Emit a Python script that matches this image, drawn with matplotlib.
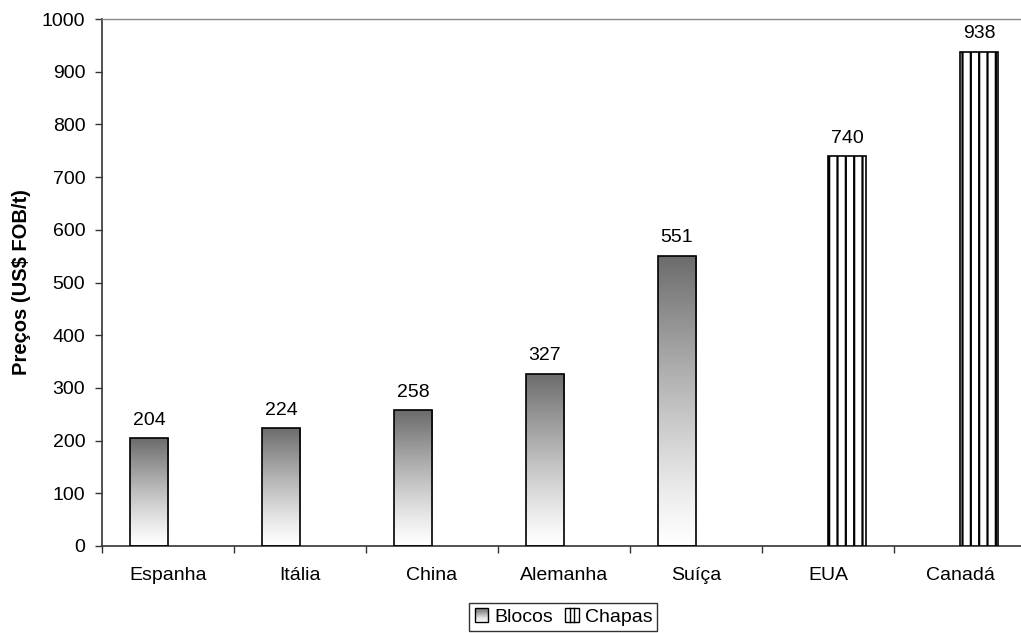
import numpy as np
import matplotlib
matplotlib.use("Agg")
import matplotlib.pyplot as plt
from matplotlib.patches import Rectangle
from matplotlib.legend_handler import HandlerBase

# Export prices by country, split by product type
paises = ["Espanha", "Itália", "China", "Alemanha", "Suíça", "EUA", "Canadá"]
blocos = [204, 224, 258, 327, 551, None, None]
chapas = [None, None, None, None, None, 740, 938]
yticks = [0, 100, 200, 300, 400, 500, 600, 700, 800, 900, 1000]

plt.rcParams["font.family"] = ["Liberation Sans", "DejaVu Sans"]
plt.rcParams["hatch.linewidth"] = 1.6

FS = 14
BAR_W = 0.288


def grad_color(t):
    # t = 0 at the base of a bar, 1 at its top
    g = 1.0 - 0.58 * t ** 1.2
    return (g, g, g)


fig = plt.figure(figsize=(10.21, 6.33), dpi=100)
ax = fig.add_axes([102 / 1021, 1 - 546 / 633, 924 / 1021, 527 / 633])

x = np.arange(len(paises))
bx = [i - BAR_W / 2 for i, v in zip(x, blocos) if v is not None]
bv = [v for v in blocos if v is not None]
cx = [i + BAR_W / 2 for i, v in zip(x, chapas) if v is not None]
cv = [v for v in chapas if v is not None]

# Blocos: vertical gradient from dark grey (top) to white (base)
bars_b = ax.bar(bx, bv, width=BAR_W, facecolor="none", edgecolor="black",
                linewidth=1.2, zorder=3, label="Blocos")
grad = np.linspace(0, 1, 256)[::-1]
gimg = np.array([[grad_color(t)] for t in grad])
for p in bars_b:
    x0, y0 = p.get_x(), p.get_y()
    w, h = p.get_width(), p.get_height()
    im = ax.imshow(gimg, extent=[x0, x0 + w, y0, y0 + h], aspect="auto",
                   origin="upper", zorder=2, interpolation="bilinear")
    im.set_clip_path(p)

# Chapas: white with vertical stripes
bars_c = ax.bar(cx, cv, width=BAR_W, facecolor="white", edgecolor="black",
                hatch="||", linewidth=1.2, zorder=3, label="Chapas")

# Value labels
for bars in (bars_b, bars_c):
    for p in bars:
        h = p.get_height()
        ax.annotate(f"{h:.0f}", (p.get_x() + p.get_width() / 2, h),
                    xytext=(0, 9.5), textcoords="offset points",
                    ha="center", va="baseline", fontsize=FS, color="black")

ax.set_xlim(-0.5, len(paises) - 0.5)
ax.set_ylim(0, 1000)
ax.set_yticks(yticks)
ax.tick_params(axis="y", length=5, width=1, color="#333333", pad=7,
               labelsize=FS)

ax.set_xticks(np.arange(-0.5, len(paises) + 0.5, 1.0))
ax.set_xticklabels([])
ax.set_xticks(x, minor=True)
ax.set_xticklabels(paises, minor=True)
ax.tick_params(axis="x", which="major", length=5, width=1, color="#333333")
ax.tick_params(axis="x", which="minor", length=0, pad=15, labelsize=FS)

for s in ("left", "bottom"):
    ax.spines[s].set_color("#333333")
    ax.spines[s].set_linewidth(1.2)
ax.spines["right"].set_visible(False)
ax.spines["top"].set_color("#888888")
ax.spines["top"].set_linewidth(1.0)

ax.set_ylabel("Preços (US$ FOB/t)", fontsize=14.5, fontweight="bold",
              labelpad=8)


class GradientHandler(HandlerBase):
    def create_artists(self, legend, orig_handle, xdescent, ydescent,
                       width, height, fontsize, trans):
        side = height * 1.0
        x0 = xdescent + (width - side) / 2
        y0 = -ydescent + (height - side) / 2
        arts = []
        n = 12
        for k in range(n):
            t = (k + 0.5) / n
            arts.append(Rectangle((x0, y0 + side * k / n), side, side / n,
                                  facecolor=grad_color(t), edgecolor="none",
                                  transform=trans))
        arts.append(Rectangle((x0, y0), side, side, facecolor="none",
                              edgecolor="black", linewidth=1.0,
                              transform=trans))
        return arts


class HatchHandler(HandlerBase):
    def create_artists(self, legend, orig_handle, xdescent, ydescent,
                       width, height, fontsize, trans):
        side = height * 1.0
        x0 = xdescent + (width - side) / 2
        y0 = -ydescent + (height - side) / 2
        arts = [Rectangle((x0, y0), side, side, facecolor="white",
                          edgecolor="black", linewidth=1.0, transform=trans)]
        for f in (1 / 3, 2 / 3):
            arts.append(plt.Line2D([x0 + side * f] * 2, [y0, y0 + side],
                                   color="black", linewidth=1.0,
                                   transform=trans))
        return arts


leg = fig.legend([bars_b, bars_c], ["Blocos", "Chapas"],
                 handler_map={bars_b: GradientHandler(), bars_c: HatchHandler()},
                 loc="center", bbox_to_anchor=(563 / 1021, 1 - 617 / 633),
                 ncol=2, fontsize=FS, frameon=True, fancybox=False,
                 edgecolor="black", handlelength=0.8, handletextpad=0.25,
                 columnspacing=0.6, borderpad=0.25, borderaxespad=0)
leg.get_frame().set_linewidth(1.0)

fig.savefig("out.png", dpi=100)
